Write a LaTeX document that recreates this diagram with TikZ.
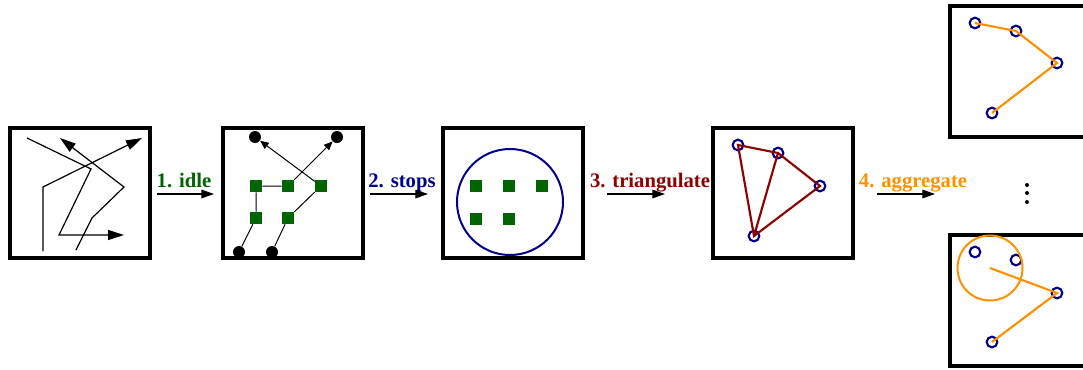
\documentclass[tikz,border=0pt]{standalone}
\usepackage{fontspec}
\setmainfont{Liberation Serif}
\usetikzlibrary{arrows.meta}
\definecolor{dgreen}{RGB}{0,100,0}
\definecolor{navyb}{RGB}{0,0,140}
\definecolor{dred}{RGB}{140,0,0}
\definecolor{orng}{RGB}{255,145,0}
\tikzset{
  frame/.style={line width=3pt},
  steplabel/.style={font=\fontsize{15.5}{18}\selectfont\bfseries, anchor=base, inner sep=0pt},
  steparrow/.style={line width=0.8pt, -{Triangle[length=9.5pt,width=6.5pt]}},
  track/.style={line width=0.9pt, -{Triangle[length=12pt,width=7.5pt]}},
  thin track/.style={line width=0.75pt, -{Triangle[length=6.5pt,width=5.5pt]}},
  plain track/.style={line width=0.75pt},
  stopsq/.style={fill=dgreen, draw=none, minimum size=9pt, inner sep=0pt, shape=rectangle},
  bdot/.style={fill=black, circle, minimum size=9pt, inner sep=0pt},
  pt/.style={draw=navyb, circle, line width=1.6pt, minimum size=8pt, inner sep=0pt},
  tri/.style={draw=dred, line width=1.6pt},
  agg/.style={draw=orng, line width=1.6pt},
  ellipsisdot/.style={fill=black, circle, minimum size=3pt, inner sep=0pt},
}
\begin{document}
\begin{tikzpicture}[x=0.75pt,y=-0.75pt]
\useasboundingbox (0,0) rectangle (1083,369);
\clip (0,0) rectangle (1083,369);

% frames
\draw[frame] (10,128) rectangle (150,258);
\draw[frame] (223,128) rectangle (363,258);
\draw[frame] (443,128) rectangle (583,258);
\draw[frame] (713,128) rectangle (853,258);
\draw[frame] (950,6) rectangle (1090,137);
\draw[frame] (950,235) rectangle (1090,366);

% panel 1: raw trajectories
\coordinate (a0) at (27,138);
\coordinate (a1) at (91,169);
\coordinate (a2) at (59,235);
\coordinate (a3) at (124,235);
\coordinate (b0) at (43,251);
\coordinate (b1) at (43,187);
\coordinate (b2) at (142,138);
\coordinate (c0) at (76,250);
\coordinate (c1) at (92,218);
\coordinate (c2) at (124,187);
\coordinate (c3) at (60,138);
\draw[track] (a0) -- (a1) -- (a2) -- (a3);
\draw[track] (b0) -- (b1) -- (b2);
\draw[track] (c0) -- (c1) -- (c2) -- (c3);

% step 1
\node[steplabel, text=dgreen] (l1) at (184,187) {1. idle};
\coordinate (s1a) at (157,194);
\coordinate (s1b) at (214,194);
\draw[steparrow] (s1a) -- (s1b);

% panel 2: idle points
\node[stopsq] (q1) at (256,186) {};
\node[stopsq] (q2) at (288,186) {};
\node[stopsq] (q3) at (321,186) {};
\node[stopsq] (q4) at (256,218) {};
\node[stopsq] (q5) at (288,218) {};
\node[bdot] (e1) at (255,137) {};
\node[bdot] (e2) at (337,137) {};
\node[bdot] (e3) at (239,252) {};
\node[bdot] (e4) at (272,252) {};
\draw[plain track] (e3) -- (q4) -- (q1) -- (q2);
\draw[thin track] (q2) -- (e2);
\draw[thin track] (q3) -- (e1);
\draw[plain track] (e4) -- (q5) -- (q3);

% step 2
\node[steplabel, text=navyb] (l2) at (402,187) {2. stops};
\coordinate (s2a) at (370,194);
\coordinate (s2b) at (428,194);
\draw[steparrow] (s2a) -- (s2b);

% panel 3: stops
\node[draw=navyb, line width=1.5pt, circle, minimum size=106*0.75pt, inner sep=0pt] (region) at (510,202) {};
\node[stopsq] (r1) at (476,186) {};
\node[stopsq] (r2) at (509,186) {};
\node[stopsq] (r3) at (542,186) {};
\node[stopsq] (r4) at (476,219) {};
\node[stopsq] (r5) at (509,219) {};

% step 3
\node[steplabel, text=dred] (l3) at (650,187) {3. triangulate};
\coordinate (s3a) at (607,194);
\coordinate (s3b) at (665,194);
\draw[steparrow] (s3a) -- (s3b);

% panel 4: triangulation
\node[pt] (t1) at (738,145) {};
\node[pt] (t2) at (778,153) {};
\node[pt] (t3) at (820,186) {};
\node[pt] (t4) at (754,236) {};
\draw[tri] (t1.center) -- (t2.center) -- (t3.center) -- (t4.center) -- cycle;
\draw[tri] (t2.center) -- (t4.center);

% step 4
\node[steplabel, text=orng] (l4) at (913,187) {4. aggregate};
\coordinate (s4a) at (877,194);
\coordinate (s4b) at (935,194);
\draw[steparrow] (s4a) -- (s4b);

% vertical ellipsis
\node[ellipsisdot] (v1) at (1027,185) {};
\node[ellipsisdot] (v2) at (1027,193) {};
\node[ellipsisdot] (v3) at (1027,202) {};

% panel 5a: aggregated path
\node[pt] (u1) at (975,23) {};
\node[pt] (u2) at (1016,31) {};
\node[pt] (u3) at (1057,63) {};
\node[pt] (u4) at (992,113) {};
\draw[agg] (u1.center) -- (u2.center) -- (u3.center) -- (u4.center);

% panel 5b: aggregated cluster
\node[pt] (w1) at (975,252) {};
\node[pt] (w2) at (1016,260) {};
\node[pt] (w3) at (1057,293) {};
\node[pt] (w4) at (992,342) {};
\node[draw=orng, line width=1.5pt, circle, minimum size=65*0.75pt, inner sep=0pt] (clus) at (990,268) {};
\draw[agg] (clus.center) -- (w3.center) -- (w4.center);
\end{tikzpicture}
\end{document}
